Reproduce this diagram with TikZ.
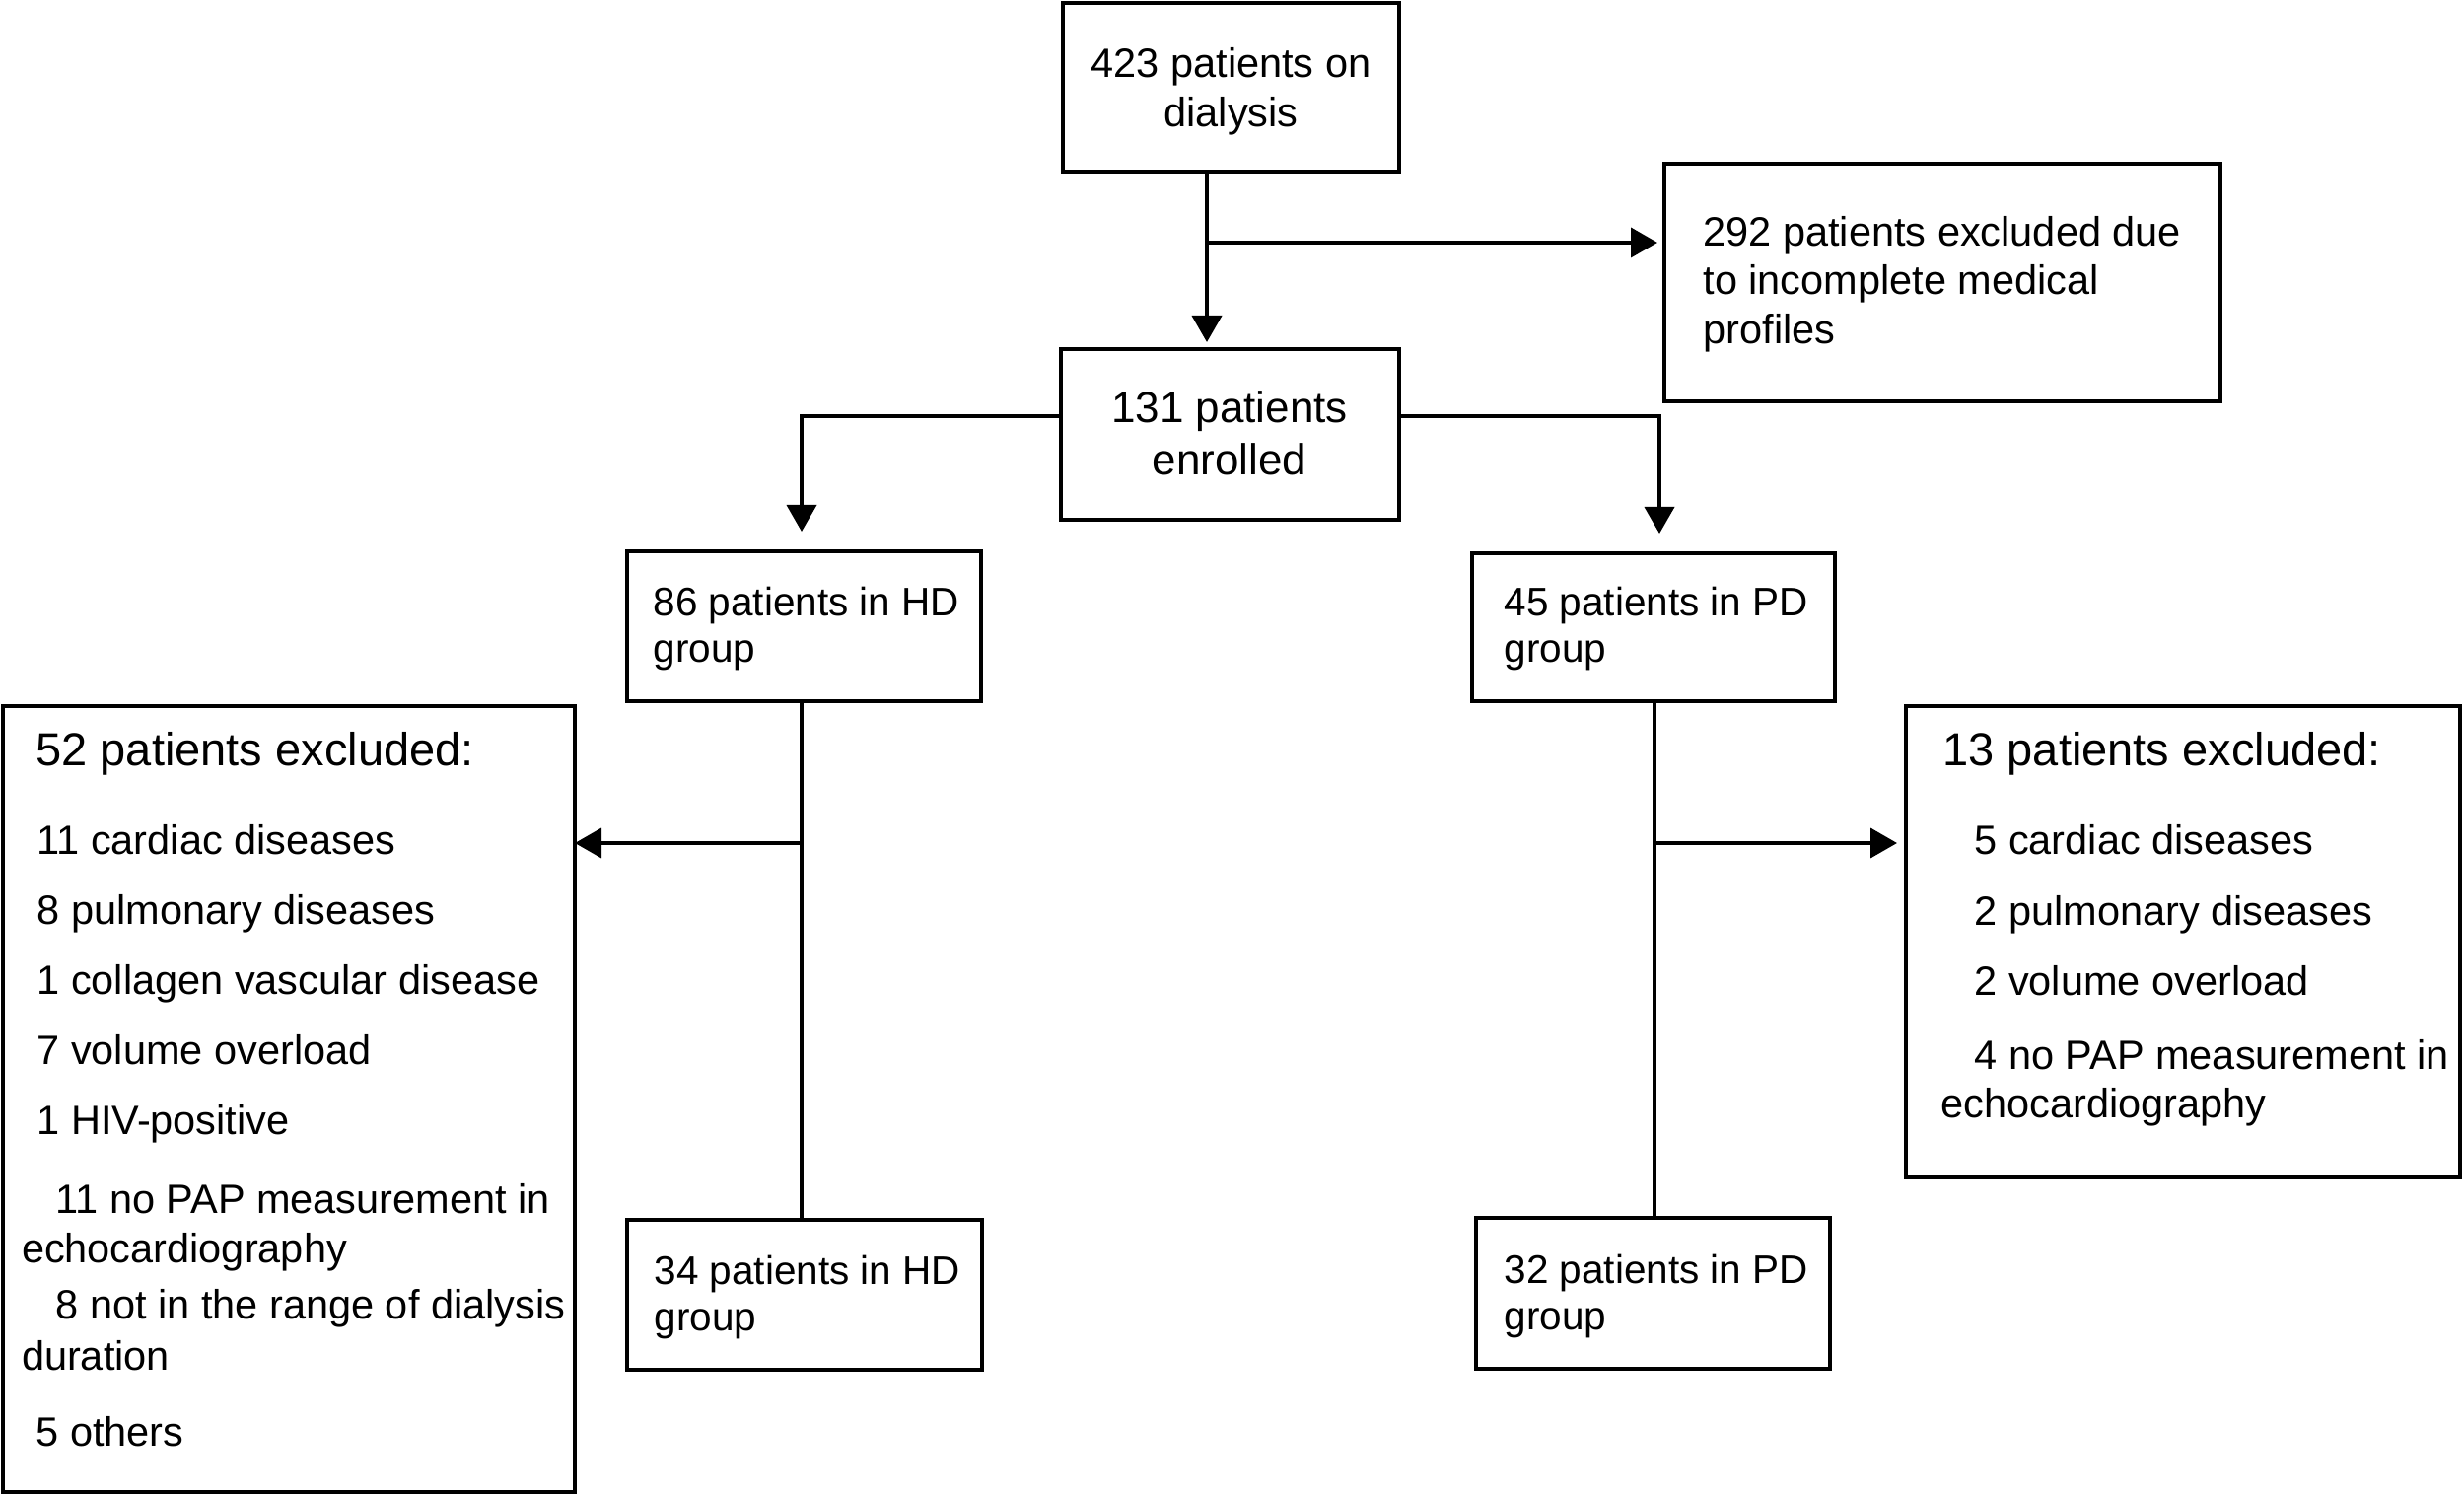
\documentclass[tikz,border=0pt]{standalone}
\usepackage{fontspec}
\setmainfont{Liberation Sans}
\usetikzlibrary{arrows.meta}
\newcommand\mkbox[5]{\node[box, minimum width={(#4-#2)*0.4pt}, minimum height={(#5-#3)*0.4pt}] (#1) at ({(#2+#4)/2},{(#3+#5)/2}) {};}
\begin{document}
\begin{tikzpicture}[x=0.4pt,y=-0.4pt,
  box/.style={draw, line width=1.5pt, inner sep=0pt, outer sep=0pt},
  conn/.style={line width=1.5pt},
  arr/.style={line width=1.5pt, -{Triangle[length=10.8pt,width=12pt]}},
  txt/.style={inner sep=0pt, anchor=base west, font=\fontsize{16.6pt}{20pt}\selectfont},
  btxt/.style={txt, font=\fontsize{16.2pt}{20pt}\selectfont},
  ctxt/.style={txt, anchor=base},
  head/.style={txt, font=\fontsize{18.8pt}{22pt}\selectfont}]
\useasboundingbox (0,0) rectangle (2499,1517);
% boxes
\mkbox{top}{1078}{3}{1419}{174}
\mkbox{excl}{1688}{166}{2252}{407}
\mkbox{enr}{1076}{354}{1419}{527}
\mkbox{hd}{636}{559}{995}{711}
\mkbox{pd}{1493}{561}{1861}{711}
\mkbox{exhd}{3}{716}{583}{1513}
\mkbox{expd}{1933}{716}{2495}{1194}
\mkbox{hdb}{636}{1237}{996}{1389}
\mkbox{pdb}{1497}{1235}{1856}{1388}
% connectors
\coordinate (j1) at (1224,246);
\draw[arr, shorten >=2.8pt] (top.south -| j1) -- (enr.north -| j1);
\draw[arr, shorten >=2.8pt] (j1) -- (j1 -| excl.west);
\coordinate (b1) at (813,422);
\coordinate (b2) at (1683,422);
\draw[arr, shorten >=8pt] (enr.west |- b1) -- (b1) -- (hd.north -| b1);
\draw[arr, shorten >=8pt] (enr.east |- b2) -- (b2) -- (pd.north -| b2);
\coordinate (j2) at (813,855);
\coordinate (j3) at (1678,855);
\draw[conn] (hd.south -| j2) -- (hdb.north -| j2);
\draw[conn] (pd.south -| j3) -- (pdb.north -| j3);
\draw[arr] (j2) -- (j2 -| exhd.east);
\draw[arr, shorten >=3.6pt] (j3) -- (j3 -| expd.west);
% texts
\node[ctxt] (t1) at (1248.5,79) {423 patients on};
\node[ctxt] (t2) at (1248.5,129) {dialysis};
\node[ctxt, font=\fontsize{17.6pt}{21pt}\selectfont] (t3) at (1247,429) {131 patients};
\node[ctxt, font=\fontsize{17.6pt}{21pt}\selectfont] (t4) at (1247,482) {enrolled};
\node[txt] (t5) at (1727,250) {292 patients excluded due};
\node[txt] (t6) at (1727,299) {to incomplete medical};
\node[txt] (t7) at (1727,349) {profiles};
\node[btxt] (t8) at (662,625) {86 patients in HD};
\node[btxt] (t9) at (662,672) {group};
\node[btxt] (t10) at (1525,625) {45 patients in PD};
\node[btxt] (t11) at (1525,672) {group};
\node[btxt] (t12) at (663,1302) {34 patients in HD};
\node[btxt] (t13) at (663,1349) {group};
\node[btxt] (t14) at (1525,1301) {32 patients in PD};
\node[btxt] (t15) at (1525,1348) {group};
\node[head] (h1) at (36,776) {52 patients excluded:};
\node[txt] (a1) at (37,866) {11 cardiac diseases};
\node[txt] (a2) at (37,937) {8 pulmonary diseases};
\node[txt] (a3) at (37,1008) {1 collagen vascular disease};
\node[txt] (a4) at (37,1079) {7 volume overload};
\node[txt] (a5) at (37,1150) {1 HIV-positive};
\node[txt] (a6) at (56,1230) {11 no PAP measurement in};
\node[txt] (a7) at (21.5,1280) {echocardiography};
\node[txt] (a8) at (56,1337) {8 not in the range of dialysis};
\node[txt] (a9) at (21.5,1389) {duration};
\node[txt] (a10) at (36,1466) {5 others};
\node[head] (h2) at (1970,776) {13 patients excluded:};
\node[txt] (c1) at (2002,866) {5 cardiac diseases};
\node[txt] (c2) at (2002,938) {2 pulmonary diseases};
\node[txt] (c3) at (2002,1009) {2 volume overload};
\node[txt] (c4) at (2002,1084) {4 no PAP measurement in};
\node[txt] (c5) at (1968,1133.5) {echocardiography};
\end{tikzpicture}
\end{document}
